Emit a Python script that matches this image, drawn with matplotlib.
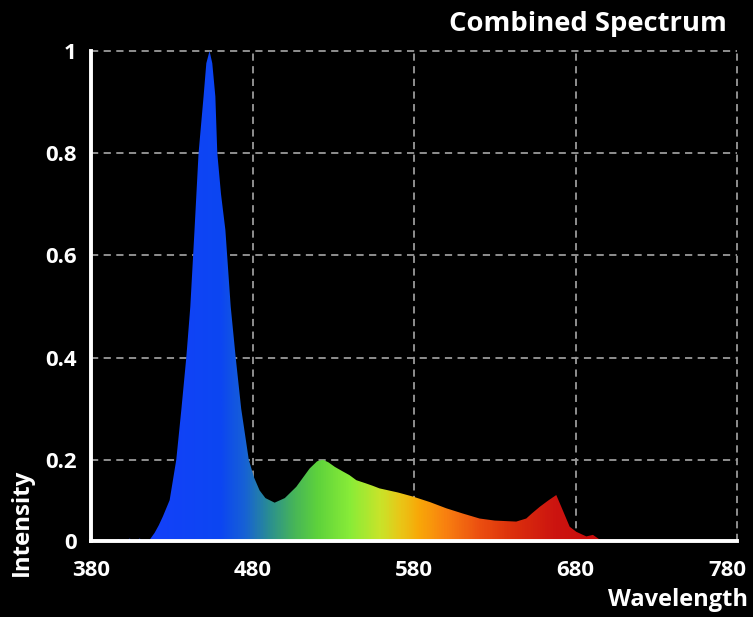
import numpy as np
import matplotlib
matplotlib.use("Agg")
import matplotlib.pyplot as plt
from matplotlib.colors import LinearSegmentedColormap
from matplotlib.patches import Polygon
from matplotlib.transforms import ScaledTranslation

# ---- data ----
wavelength = [380, 390, 393, 397, 400, 404, 407, 410, 413, 416, 419.4, 422, 424.5, 428.7,
              432.8, 436, 439, 441.5, 444.1, 446.6, 449.7, 451.4, 453.4, 455.1, 457.0,
              458.2, 460.5, 463.2, 466.5, 469.6, 473, 477.7, 481, 484.4, 488, 493.7,
              500, 507.1, 515.4, 520, 523.6, 527, 531, 536, 540, 544.3, 550, 554.5,
              558.6, 570, 579.3, 590, 600, 610, 620.6, 630, 643.3, 649.5, 653, 657.9,
              663, 668.1, 671.2, 676.4, 680.5, 686.7, 690.8, 694.9, 703, 707, 712, 780]
intensity = [0.0, 0.044, 0.036, 0.045, 0.036, 0.046, 0.036, 0.046, 0.040, 0.042, 0.057,
             0.072, 0.089, 0.121, 0.20, 0.30, 0.40, 0.50, 0.65, 0.80, 0.911, 0.976,
             1.0, 0.976, 0.911, 0.80, 0.72, 0.65, 0.50, 0.40, 0.30, 0.20, 0.165, 0.14,
             0.125, 0.116, 0.125, 0.147, 0.183, 0.197, 0.20, 0.195, 0.186, 0.177,
             0.170, 0.160, 0.154, 0.149, 0.144, 0.136, 0.128, 0.117, 0.105, 0.095,
             0.085, 0.081, 0.079, 0.085, 0.095, 0.108, 0.120, 0.131, 0.108, 0.069,
             0.059, 0.050, 0.053, 0.044, 0.043, 0.040, 0.0, 0.0]

x_ticks = [380, 480, 580, 680, 780]
y_ticks = [0.2, 0.4, 0.6, 0.8, 1.0]
y_tick_labels = ["0.2", "0.4", "0.6", "0.8", "1"]
y_base = 0.041  # value level where the bottom axis line sits

# colour stops (wavelength, colour)
stop_nm = [380, 460, 475, 490, 505, 520, 540, 559, 571, 583, 600, 620, 641, 668, 700, 780]
stop_col = ["#1a3cff", "#0c46f2", "#1762d4", "#2a8e92", "#46b45a", "#5ed23c", "#88ec38",
            "#c8e42a", "#e8c818", "#f8a808", "#f88010", "#ec5010", "#dc300c", "#cc1410",
            "#c80a0a", "#c80a0a"]

plt.rcParams['font.family'] = ['Open Sans', 'DejaVu Sans']
plt.rcParams['font.weight'] = 'bold'

fig = plt.figure(figsize=(7.53, 6.17), dpi=100, facecolor='black')
ax = fig.add_axes([91/753, 1-541/617, (737-91)/753, (541-51)/617])
ax.set_facecolor('black')

x0, x1 = 380, 780
ax.set_xlim(x0, x1)
ax.set_ylim(y_base, 1.0)

# gradient fill clipped to spectrum polygon
pos = [(s - x0) / (x1 - x0) for s in stop_nm]
cmap = LinearSegmentedColormap.from_list('spec', list(zip(pos, stop_col)))
grad = np.linspace(0, 1, 800).reshape(1, -1)
im = ax.imshow(grad, cmap=cmap, aspect='auto', extent=[x0, x1, 0, 1.0],
               origin='lower', zorder=2, interpolation='bilinear')
verts = [(wavelength[0], 0)] + list(zip(wavelength, intensity)) + [(wavelength[-1], 0)]
poly = Polygon(verts, closed=True, facecolor='none', edgecolor='none', transform=ax.transData)
ax.add_patch(poly)
im.set_clip_path(poly)

# grid
for xv in x_ticks[1:]:
    ax.axvline(xv, color='#9a9a9a', lw=1.3, ls=(0, (4, 3)), zorder=1, clip_on=False)
for yv in y_ticks:
    ax.axhline(yv, color='#9a9a9a', lw=1.3, ls=(0, (4, 3)), zorder=1, clip_on=False)

# spines
for s in ['top', 'right']:
    ax.spines[s].set_visible(False)
for s in ['left', 'bottom']:
    ax.spines[s].set_color('white')
    ax.spines[s].set_linewidth(2.8)
    ax.spines[s].set_zorder(5)

ax.set_xticks(x_ticks)
ax.set_xticklabels([str(v) for v in x_ticks])
ax.set_yticks([y_base] + y_ticks)
ax.set_yticklabels(["0"] + y_tick_labels)
ax.tick_params(axis='both', length=0, colors='white', labelsize=16)
ax.tick_params(axis='x', pad=14)
ax.tick_params(axis='y', pad=10.5)
for lab in ax.get_xticklabels() + ax.get_yticklabels():
    lab.set_fontweight('bold')

# keep the last x label inside the figure (as in the reference)
last = ax.get_xticklabels()[-1]
last.set_horizontalalignment('right')
last.set_transform(last.get_transform() + ScaledTranslation(9/100, 0, fig.dpi_scale_trans))

fig.text(727/753, 1-24/617, 'Combined Spectrum', color='white', fontsize=19.7,
         fontweight='bold', ha='right', va='center')
fig.text(678/753, 1-600/617, 'Wavelength', color='white', fontsize=17,
         fontweight='bold', ha='center', va='center')
fig.text(22/753, 1-522/617, 'Intensity', color='white', fontsize=17.3,
         fontweight='bold', ha='center', va='center', rotation=90)

fig.savefig('out.png', dpi=100, facecolor='black')
